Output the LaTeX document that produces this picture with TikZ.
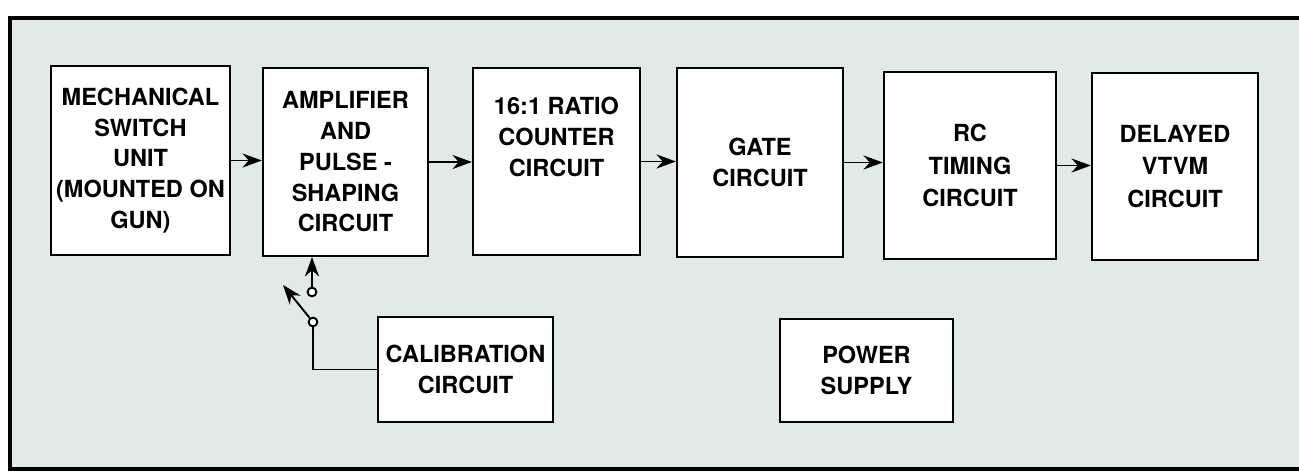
\documentclass[tikz,border=0pt]{standalone}
\usepackage{fontspec}
\setmainfont{TeX Gyre Heros}
\usetikzlibrary{arrows.meta,positioning}
\definecolor{paper}{RGB}{226,234,231}

\begin{document}
\begin{tikzpicture}[x=0.02cm,y=-0.02cm,
  block/.style={draw,line width=1.3pt,fill=white,align=center,inner sep=0pt,
    font=\bfseries\fontsize{13.4}{17.5}\selectfont},
  txt/.style={align=center,inner sep=0pt,font=\bfseries\fontsize{13.4}{17.5}\selectfont},
  sig/.style={line width=1.1pt,-{Stealth[length=11pt,width=8pt,inset=3.5pt]}},
  contact/.style={circle,draw,line width=1.1pt,fill=white,inner sep=0pt,minimum size=5pt}]
\useasboundingbox (0,0) rectangle (1299,472);
\fill[paper] (10,18) rectangle (1299,469);
\draw[line width=2.2pt] (1299,18) -- (10,18) -- (10,469) -- (1299,469);

\node[block,minimum width=3.58cm,minimum height=3.78cm] (mech) at (140.5,160.5)
  {MECHANICAL\\SWITCH\\UNIT\\(MOUNTED ON\\GUN)};
\node[block,minimum width=3.30cm,minimum height=3.76cm] (amp) at (345.5,162)
  {AMPLIFIER\\AND\\PULSE -\\SHAPING\\CIRCUIT};
\node[block,minimum width=3.34cm,minimum height=3.74cm] (ratio) at (556.5,161.5) {};
\node[txt,below=0.6cm of ratio.north] (ratiotxt) {16:1 RATIO\\COUNTER\\CIRCUIT};
\node[block,minimum width=3.32cm,minimum height=3.78cm] (gate) at (760,162.5)
  {GATE\\CIRCUIT};
\node[block,minimum width=3.44cm,minimum height=3.74cm] (rc) at (970,165.5)
  {RC\\[1pt]TIMING\\[1pt]CIRCUIT};
\node[block,minimum width=3.32cm,minimum height=3.74cm] (vtvm) at (1175,166.5)
  {DELAYED\\[1pt]VTVM\\[1pt]CIRCUIT};
\node[block,minimum width=3.50cm,minimum height=2.10cm] (cal) at (465.5,369.5)
  {CALIBRATION\\CIRCUIT};
\node[block,minimum width=3.46cm,minimum height=2.06cm] (power) at (866.5,370.5)
  {POWER\\SUPPLY};

\foreach \a/\b in {mech/amp,amp/ratio,ratio/gate,gate/rc,rc/vtvm}
  \draw[sig] (\a.east) -- (\a.east -| \b.west);

\node[contact] (upper) at (312,292) {};
\node[contact] (lower) at (313,322) {};
\coordinate (armtip) at (283,285);
\draw[sig] (upper) -- (upper |- amp.south);
\draw[sig] (lower) -- (armtip);
\draw[line width=1.1pt] (cal.west) -| (lower);
\end{tikzpicture}
\end{document}
